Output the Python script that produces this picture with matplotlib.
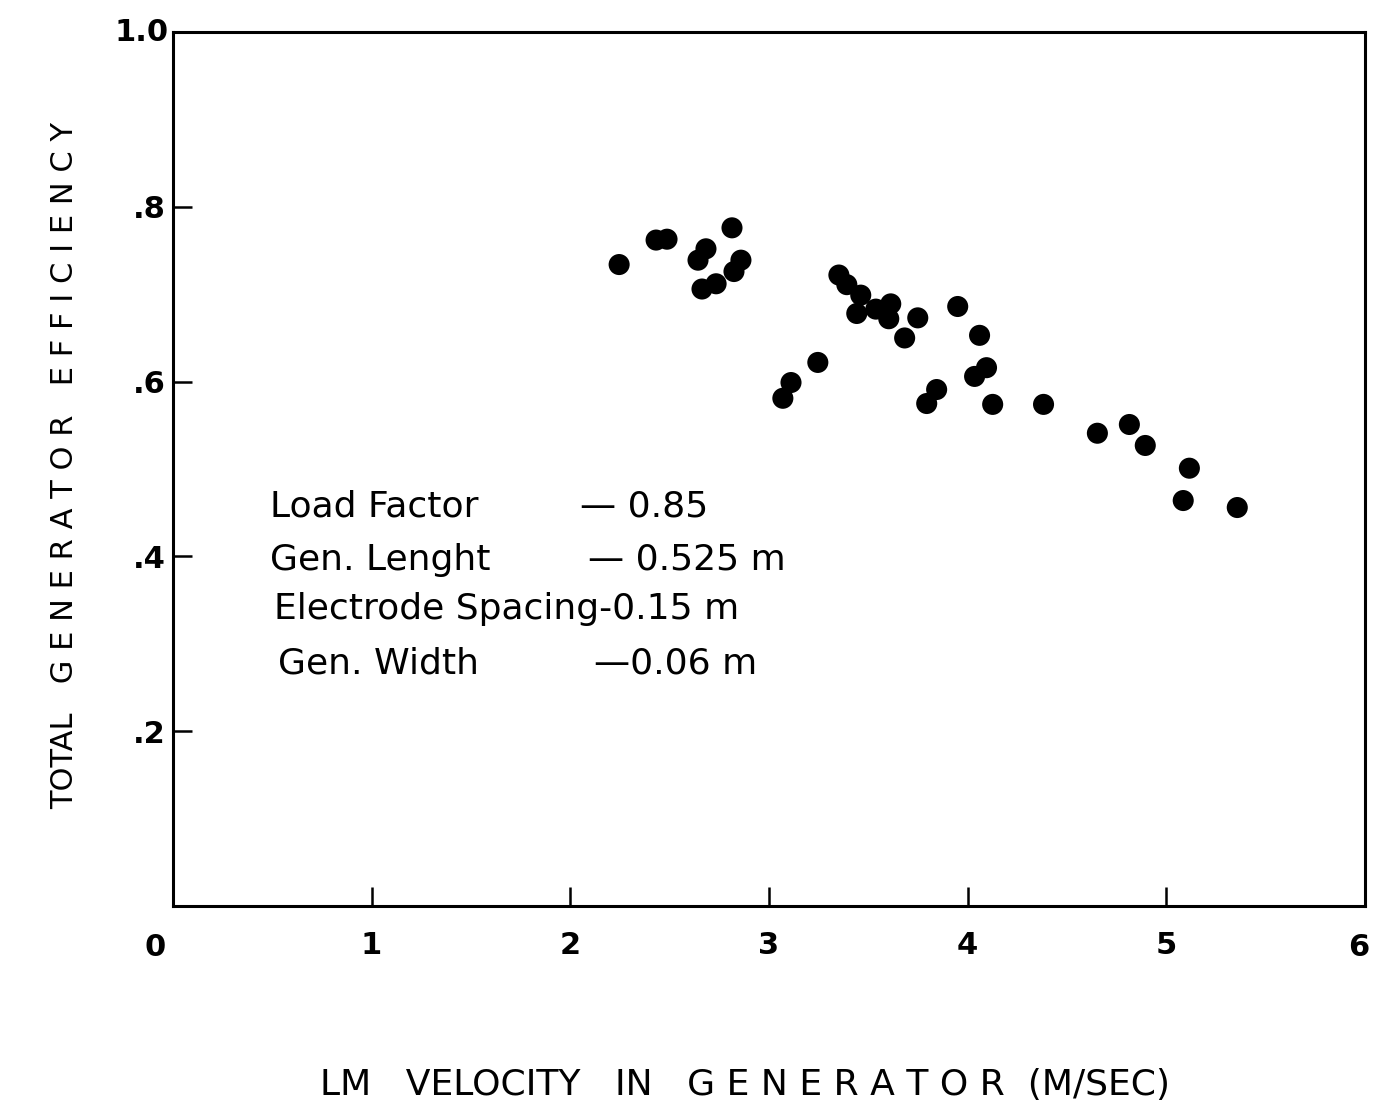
import matplotlib
matplotlib.use("Agg")
import matplotlib.pyplot as plt

# Measured LM velocity (m/s) and total generator efficiency
velocity = [2.246, 2.432, 2.487, 2.643, 2.683, 2.663, 2.734, 2.814, 2.859, 2.824,
            3.070, 3.111, 3.246, 3.352, 3.392, 3.462, 3.442, 3.538, 3.613, 3.603,
            3.683, 3.749, 3.794, 3.844, 3.950, 4.035, 4.060, 4.095, 4.126, 4.382,
            4.653, 4.814, 4.894, 5.085, 5.116, 5.357]
efficiency = [0.734, 0.762, 0.763, 0.739, 0.752, 0.706, 0.712, 0.776, 0.739, 0.726,
              0.581, 0.599, 0.622, 0.722, 0.711, 0.699, 0.678, 0.683, 0.689, 0.672,
              0.650, 0.673, 0.575, 0.591, 0.686, 0.606, 0.653, 0.616, 0.574, 0.574,
              0.541, 0.551, 0.527, 0.464, 0.501, 0.456]

x_ticks = [1, 2, 3, 4, 5]
x_tick_labels = ["1", "2", "3", "4", "5"]
y_ticks = [0.2, 0.4, 0.6, 0.8]
y_tick_labels = [".2", ".4", ".6", ".8"]

param_names = ["Load Factor", "Gen. Lenght", "Electrode Spacing", "Gen. Width"]
param_values = ["\u2014 0.85", "\u2014 0.525 m", "-0.15 m", "\u20140.06 m"]

fig = plt.figure(figsize=(13.83, 11.05), dpi=100)
ax = fig.add_axes([0.125, 0.180, 0.862, 0.791])
ax.set_xlim(0, 6)
ax.set_ylim(0, 1.0)

ax.scatter(velocity, efficiency, s=230, color="black", edgecolors="none", zorder=3)

for sp in ax.spines.values():
    sp.set_linewidth(2.2)
    sp.set_color("black")

tick_font = dict(family="DejaVu Sans", weight="bold", size=22)
ax.set_xticks(x_ticks)
ax.set_xticklabels(x_tick_labels, **tick_font)
ax.set_yticks(y_ticks)
ax.set_yticklabels(y_tick_labels, **tick_font)
ax.tick_params(axis="x", direction="in", length=14, width=1.8, pad=18)
ax.tick_params(axis="y", direction="in", length=14, width=1.8, pad=5)

# axis end labels
ax.text(-0.09, -0.031, "0", ha="center", va="top", clip_on=False, **tick_font)
ax.text(5.97, -0.031, "6", ha="center", va="top", clip_on=False, **tick_font)
ax.text(-0.02, 1.0, "1.0", ha="right", va="center", clip_on=False, **tick_font)

fig.text(745 / 1383, 1 - 1085 / 1105,
         "LM   VELOCITY   IN   G E N E R A T O R  (M/SEC)",
         ha="center", va="center", family="DejaVu Sans", size=26, color="black")
fig.text(65 / 1383, 1 - 465 / 1105,
         "TOTAL   G E N E R A T O R   E F F I C I E N C Y",
         ha="center", va="center", rotation=90,
         family="DejaVu Sans", size=22, color="black")

# operating parameters
text_font = dict(family="DejaVu Sans", size=26, color="black")
name_x = [0.49, 0.49, 0.51, 0.53]
value_x = [2.05, 2.09, None, 2.12]
rows_y = [0.446, 0.385, 0.329, 0.266]
for i in range(4):
    if value_x[i] is None:
        ax.text(name_x[i], rows_y[i], param_names[i] + param_values[i],
                ha="left", va="baseline", **text_font)
    else:
        ax.text(name_x[i], rows_y[i], param_names[i], ha="left", va="baseline",
                **text_font)
        ax.text(value_x[i], rows_y[i], param_values[i], ha="left", va="baseline",
                **text_font)

fig.savefig("out.png", dpi=100, facecolor="white")
